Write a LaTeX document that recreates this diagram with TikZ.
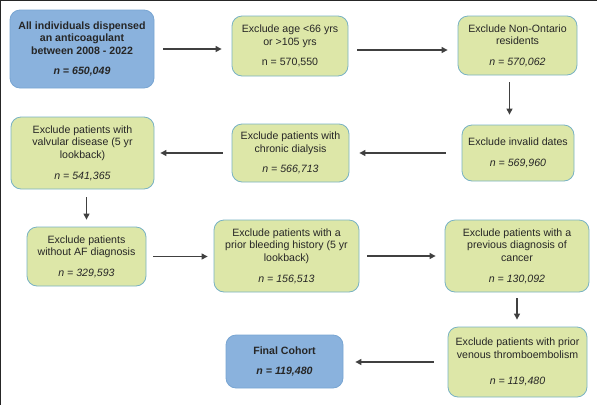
\documentclass[tikz,border=0pt]{standalone}
\usepackage{fontspec}
\setmainfont{Liberation Sans}
\usepackage{tikz}
\usetikzlibrary{arrows.meta, positioning, calc}
\usepackage{xcolor}
\definecolor{cohortblue}{RGB}{138,178,221}
\definecolor{cohortedge}{RGB}{120,165,210}
\definecolor{exclgreen}{RGB}{221,231,168}
\definecolor{excledge}{RGB}{120,178,195}
\definecolor{arrowgray}{RGB}{64,64,64}

\begin{document}
\begin{tikzpicture}[x=1pt, y=-1pt,
    box/.style={rounded corners=10pt, align=center, inner sep=2pt,
        font=\fontsize{10.6}{12.6}\selectfont, text=black!85},
    exclbox/.style={box, draw=excledge, line width=0.8pt, fill=exclgreen},
    cohortbox/.style={box, draw=cohortedge, line width=0.8pt, fill=cohortblue,
        font=\fontsize{10.6}{12.6}\selectfont\bfseries},
    flow/.style={-{Triangle[length=6pt, width=6pt]}, line width=1.1pt, arrowgray,
        shorten <=9pt, shorten >=10pt}]
                % Cornice
                \useasboundingbox (0,0) rectangle (597,405);
                \draw[line width=2pt, black!85] (0,405) -- (0,0) -- (597,0);

                % Riga 1
                \node[cohortbox, minimum width=144pt, minimum height=78pt] (all) at (82,49)
                    {All individuals dispensed\\an anticoagulant\\between 2008 - 2022\\[8pt]\textit{n = 650,049}};
                \node[exclbox, minimum width=116pt, minimum height=60pt] (age) at (290,46)
                    {Exclude age <66 yrs\\or >105 yrs\\[8pt]n = 570,550};
                \node[exclbox, minimum width=119pt, minimum height=59pt] (ontario) at (517.5,45.5)
                    {Exclude Non-Ontario\\residents\\[8pt]\textit{n = 570,062}};

                % Riga 2
                \node[exclbox, minimum width=112pt, minimum height=56pt] (dates) at (518,153)
                    {Exclude invalid dates\\[8pt]\textit{n = 569,960}};
                \node[exclbox, minimum width=117pt, minimum height=58pt] (dialysis) at (290.5,153)
                    {Exclude patients with\\chronic dialysis\\[8pt]\textit{n = 566,713}};
                \node[exclbox, minimum width=143pt, minimum height=72pt] (valve) at (82.5,153)
                    {Exclude patients with\\valvular disease (5 yr\\lookback)\\[8pt]\textit{n = 541,365}};

                % Riga 3
                \node[exclbox, minimum width=119pt, minimum height=59pt] (af) at (86.5,256.5)
                    {Exclude patients\\without AF diagnosis\\[8pt]\textit{n = 329,593}};
                \node[exclbox, minimum width=145pt, minimum height=72pt] (bleed) at (286.5,256)
                    {Exclude patients with a\\prior bleeding history (5 yr\\lookback)\\[8pt]\textit{n = 156,513}};
                \node[exclbox, minimum width=144pt, minimum height=72pt] (cancer) at (517,256)
                    {Exclude patients with a\\previous diagnosis of\\cancer\\[8pt]\textit{n = 130,092}};

                % Riga 4
                \node[exclbox, minimum width=139pt, minimum height=70pt] (vte) at (517.5,362)
                    {Exclude patients with prior\\venous thromboembolism\\[14pt]\textit{n = 119,480}};
                \node[cohortbox, minimum width=117pt, minimum height=53pt] (final) at (284.5,361.5)
                    {Final Cohort\\[8pt]\textit{n = 119,480}};

                % Frecce
                \draw[flow] (all.east) -- (all.east -| age.west);
                \draw[flow] ([yshift=-4pt]age.east) -- ([yshift=-4pt]age.east -| ontario.west);
                \draw[flow, shorten <=7pt] ([xshift=-8pt]ontario.south) -- ([xshift=-8pt]ontario.south |- dates.north);
                \draw[flow, shorten <=16pt] (dates.west) -- (dialysis.east);
                \draw[flow, shorten >=6pt] (dialysis.west) -- (dialysis.west -| valve.east);
                \draw[flow, shorten <=8pt, shorten >=7pt] (af.north |- valve.south) -- (af.north);
                \draw[flow, shorten <=7pt, shorten >=6pt] (af.east) -- (af.east -| bleed.west);
                \draw[flow, shorten <=8pt, shorten >=9pt] (bleed.east) -- (cancer.west);
                \draw[flow, shorten <=6pt, shorten >=7pt] (cancer.south) -- (cancer.south |- vte.north);
                \draw[flow, shorten <=14pt, shorten >=12pt] (vte.west) -- (vte.west -| final.east);
\end{tikzpicture}
\end{document}
